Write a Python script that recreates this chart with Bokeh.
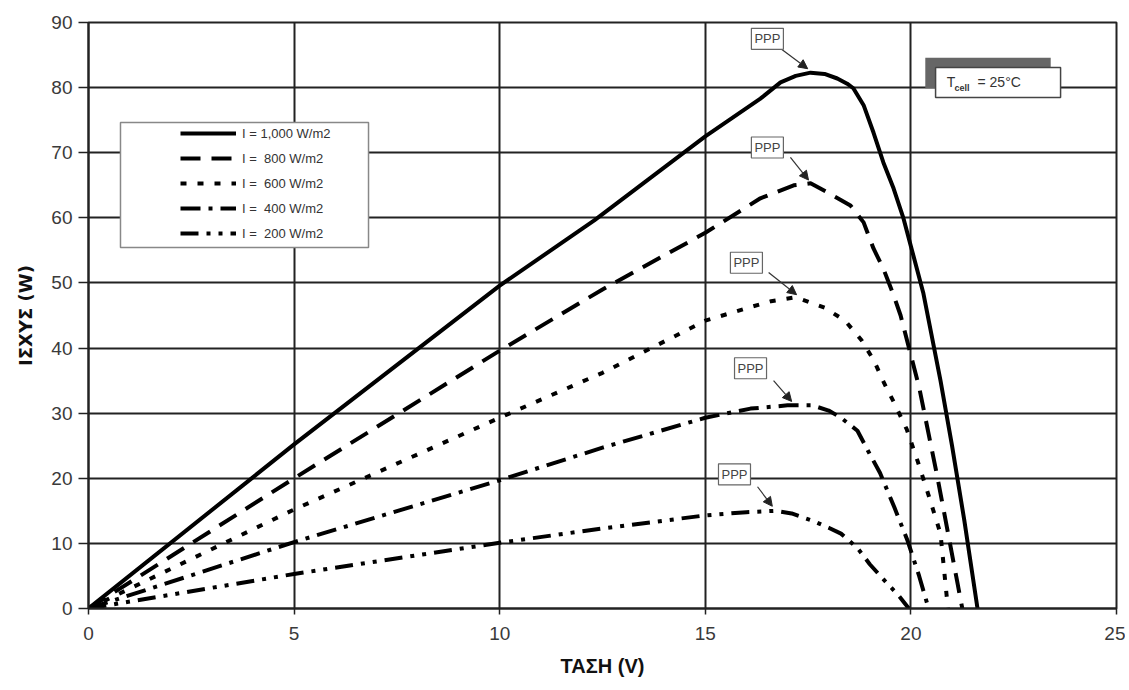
from bokeh.plotting import figure
from bokeh.models import (Range1d, FixedTicker, Legend, LegendItem, Arrow,
                          NormalHead, Label)
from bokeh.core.properties import value
from bokeh.embed import file_html
from bokeh.resources import INLINE

# ---- data ----
v_1000 = [0, 5, 10, 12.3, 15, 16.34, 16.83, 17.2, 17.56, 17.9, 18.21, 18.45, 18.6, 18.85, 19.09, 19.33,
          19.58, 19.82, 20.06, 20.3, 20.72, 21.0, 21.3, 21.62]
p_1000 = [0, 25.2, 49.6, 59.6, 72.5, 78.3, 80.8, 81.8, 82.3, 82.1, 81.4, 80.6, 79.9, 77.3, 73.1, 68.5,
          64.5, 59.9, 54.2, 48.5, 35, 25, 13.5, 0]

v_800 = [0, 5, 10, 12.5, 15, 16.34, 17.15, 17.56, 17.97, 18.53, 18.85, 19.09, 19.33, 19.58, 19.75, 20.2,
         20.65, 21.13, 21.25]
p_800 = [0, 20.0, 39.6, 49.0, 57.7, 63.0, 65.0, 65.3, 63.9, 61.9, 59.3, 55.3, 52.2, 48.1, 45.0, 34,
         20, 4, 0]

v_600 = [0, 5, 10, 12.5, 15, 16.1, 16.6, 17.2, 17.9, 18.4, 18.8, 19.1, 19.35, 19.6, 19.9, 20.16, 20.45, 20.72, 20.9]
p_600 = [0, 15.2, 29.3, 36.2, 44.2, 46.3, 47.2, 47.8, 46.2, 44.2, 41.2, 38.1, 34.6, 31.5, 27.5, 22.7, 17, 11.5, 0]

v_400 = [0, 5, 10, 12.5, 15, 16.1, 17.0, 17.6, 18.0, 18.3, 18.7, 18.95, 19.25, 19.6, 19.92, 20.2, 20.43]
p_400 = [0, 10.2, 19.7, 24.7, 29.3, 30.7, 31.2, 31.2, 30.4, 29.3, 27.3, 24.3, 20.8, 15.5, 10.4, 5, 0]

v_200 = [0, 5, 10, 12.5, 15, 16, 16.7, 17.1, 17.6, 18.0, 18.3, 18.7, 19.0, 19.4, 19.7, 19.95]
p_200 = [0, 5.3, 10.1, 12.3, 14.3, 14.8, 15.0, 14.6, 13.5, 12.4, 11.5, 9.3, 6.8, 4.0, 2.0, 0]

series_labels = ["I = 1,000 W/m2", "I =  800 W/m2", "I =  600 W/m2", "I =  400 W/m2", "I =  200 W/m2"]
x_ticks = [0, 5, 10, 15, 20, 25]
y_ticks = [0, 10, 20, 30, 40, 50, 60, 70, 80, 90]

# PPP callouts: label centre, arrow tail and arrow tip
ppp_label_v = [16.51, 16.51, 16.00, 16.10, 15.71]
ppp_label_p = [87.5, 70.8, 53.1, 36.9, 20.6]
ppp_tail_v = [16.83, 17.07, 16.54, 16.66, 16.27]
ppp_tail_p = [86.0, 69.3, 51.6, 35.0, 18.7]
ppp_tip_v = [17.49, 17.51, 17.22, 17.10, 16.63]
ppp_tip_p = [82.9, 65.8, 48.2, 31.8, 15.7]

p = figure(width=1125, height=684, output_backend="svg", toolbar_location=None,
           x_range=Range1d(0, 25), y_range=Range1d(0, 90),
           min_border_left=88, min_border_right=9, min_border_top=22, min_border_bottom=76)

p.background_fill_color = "white"
p.border_fill_color = "white"
p.outline_line_color = "#222222"
p.outline_line_width = 2

for ax in (p.xaxis[0], p.yaxis[0]):
    ax.axis_line_color = "#222222"
    ax.axis_line_width = 2
    ax.major_tick_line_color = "#222222"
    ax.major_tick_line_width = 1.5
    ax.major_tick_in = 0
    ax.minor_tick_line_color = None
    ax.major_label_text_font = "Liberation Sans"
    ax.major_label_text_font_size = "19px"
    ax.major_label_text_color = "#3a3a3a"

p.xaxis.ticker = FixedTicker(ticks=x_ticks)
p.yaxis.ticker = FixedTicker(ticks=y_ticks)
p.xaxis.major_tick_out = 6
p.yaxis.major_tick_out = 10
p.xaxis.major_label_standoff = 12
p.yaxis.major_label_standoff = 6

p.xaxis.axis_label = "ΤΑΣΗ (V)"
p.xaxis.axis_label_text_font = "Liberation Sans"
p.xaxis.axis_label_text_font_style = "bold"
p.xaxis.axis_label_text_font_size = "20px"
p.xaxis.axis_label_text_color = "#111111"
p.xaxis.axis_label_standoff = 12

p.yaxis.axis_label = "ΙΣΧΥΣ (W)"
p.yaxis.axis_label_text_font = "DejaVu Sans"
p.yaxis.axis_label_text_font_style = "bold"
p.yaxis.axis_label_text_font_size = "18px"
p.yaxis.axis_label_text_color = "#111111"
p.yaxis.axis_label_standoff = 12

p.xgrid.grid_line_color = "#222222"
p.ygrid.grid_line_color = "#222222"
p.xgrid.grid_line_width = 2
p.ygrid.grid_line_width = 2

# legend frame (white box with gray border, drawn over the grid)
p.quad(left=[0.778], right=[6.81], bottom=[55.44], top=[74.64], fill_color="white",
       line_color="#888888", line_width=1.5)

data = [(v_1000, p_1000, "solid"), (v_800, p_800, "20 11"),
        (v_600, p_600, "6 11"), (v_400, p_400, "20 8 4 8"),
        (v_200, p_200, "18 8 4 8 4 8")]
renderers = []
for (vx, py, dash) in data:
    r = p.line(vx, py, line_color="black", line_width=4, line_dash=dash, line_join="round")
    renderers.append(r)

legend = Legend(items=[LegendItem(label=lab, renderers=[r]) for lab, r in zip(series_labels, renderers)],
                location=(92, 365))
legend.label_text_font = "Liberation Sans"
legend.label_text_font_size = "13px"
legend.label_text_color = "#333333"
legend.glyph_width = 56
legend.glyph_height = 20
legend.spacing = 5
legend.padding = 0
legend.margin = 0
legend.label_standoff = 6
legend.label_height = 20
legend.border_line_color = None
legend.background_fill_alpha = 0
p.add_layout(legend, "center")

# Tcell box with shadow
p.quad(left=[20.35], right=[23.4], bottom=[79.9], top=[84.6], fill_color="#666666", line_color=None)
p.quad(left=[20.6], right=[23.64], bottom=[78.5], top=[83.1], fill_color="white",
       line_color="#444444", line_width=1.5)
p.text(x=[20.87], y=[80.9], text=["T"], text_font=value("Liberation Sans"), text_font_size="14px",
       text_color="#333333", text_baseline="middle", text_align="left")
p.text(x=[21.06], y=[79.9], text=["cell"], text_font=value("Liberation Sans"), text_font_size="9px",
       text_font_style="bold", text_color="#333333", text_baseline="middle", text_align="left")
p.text(x=[21.62], y=[80.9], text=["= 25°C"], text_font=value("Liberation Sans"), text_font_size="14px",
       text_color="#333333", text_baseline="middle", text_align="left")

# PPP callouts
for lv, lp, tv, tp, hv, hp in zip(ppp_label_v, ppp_label_p, ppp_tail_v, ppp_tail_p, ppp_tip_v, ppp_tip_p):
    p.add_layout(Arrow(x_start=tv, y_start=tp, x_end=hv, y_end=hp,
                       line_color="#333333", line_width=1.2,
                       end=NormalHead(size=9, fill_color="#222222", line_color="#222222")))
    p.add_layout(Label(x=lv, y=lp, text="PPP", text_font="Liberation Sans", text_font_size="13px",
                       text_color="#444444", text_align="center", text_baseline="middle",
                       background_fill_color="white", border_line_color="#666666",
                       border_line_width=1.2, padding=3))

open("out.html", "w").write(file_html(p, INLINE))
